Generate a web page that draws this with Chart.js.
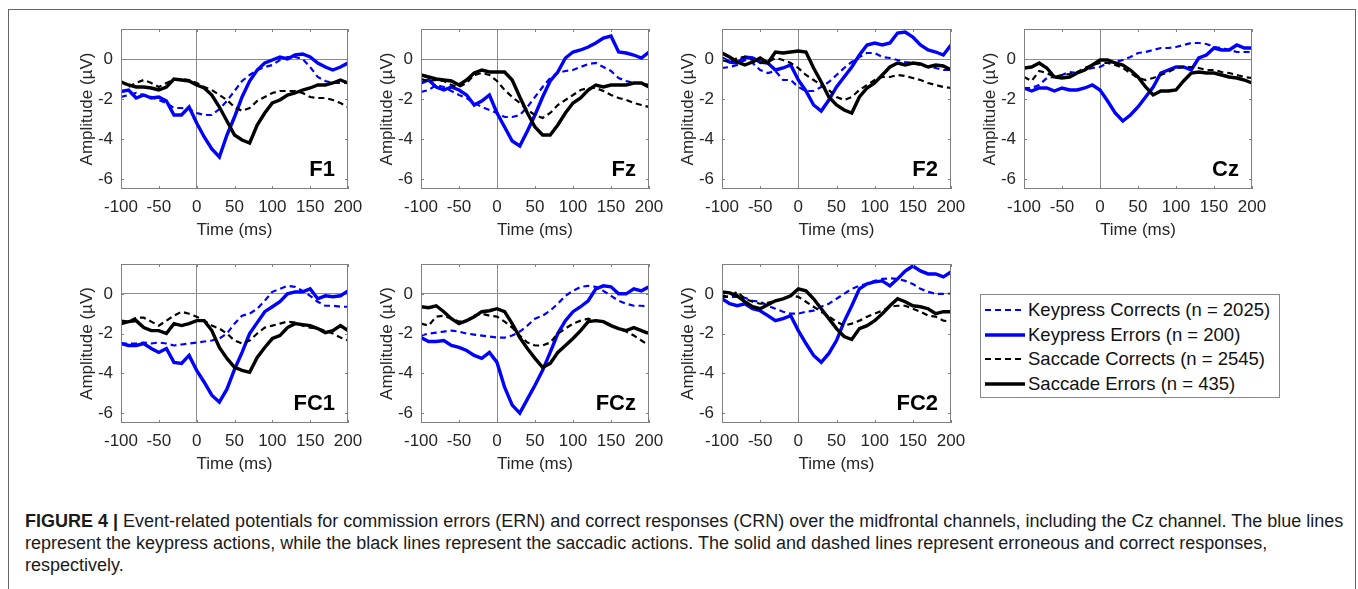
<!DOCTYPE html>
<html>
<head>
<meta charset="utf-8">
<script src="https://cdn.jsdelivr.net/npm/chart.js@4.4.1/dist/chart.umd.min.js"></script>
<style>
  body { margin: 0; width: 1358px; height: 589px; background: #fff; position: relative; overflow: hidden;
         font-family: "Liberation Sans", Arial, sans-serif; }
  .frame { position: absolute; left: 8px; top: 9px; width: 1346px; height: 640px; border: 1px solid #666; }
  canvas { position: absolute; }
  #legend { position: absolute; left: 980px; top: 294px; width: 298px; height: 102px; border: 1px solid #888; }
  #legend .row { position: absolute; left: 0; height: 24px; line-height: 24px; font-size: 18.5px; color: #111; white-space: nowrap; }
  #legend svg { position: absolute; left: 4px; top: 10px; }
  #legend span { position: absolute; left: 47px; }
  .caption { position: absolute; left: 25px; top: 510px; font-size: 18px; line-height: 22px; color: #1a1a1a; white-space: nowrap; }
</style>
</head>
<body>
<div class="frame"></div>
<div id="legend"></div>
<div class="caption"><b>FIGURE 4 |</b> Event-related potentials for commission errors (ERN) and correct responses (CRN) over the midfrontal channels, including the Cz channel. The blue lines<br>represent the keypress actions, while the black lines represent the saccadic actions. The solid and dashed lines represent erroneous and correct responses,<br>respectively.</div>
<script>
// time axis (ms) and tick values
const times = [-100, -90, -80, -70, -60, -50, -40, -30, -20, -10, 0, 10, 20, 30, 40, 50, 60, 70, 80, 90, 100, 110, 120, 130, 140, 150, 160, 170, 180, 190, 200];
const xTicks = [-100, -50, 0, 50, 100, 150, 200];
const yTicks = [-6, -4, -2, 0];

const seriesLabels = ["Keypress Corrects (n = 2025)", "Keypress Errors (n = 200)", "Saccade Corrects (n = 2545)", "Saccade Errors (n = 435)"];
const channels = ["F1", "Fz", "F2", "Cz", "FC1", "FCz", "FC2"];

// amplitudes (µV), every 10 ms
const f1KeyCorrect = [-1.9, -1.8, -1.7, -1.8, -1.9, -2.05, -2.2, -2.45, -2.45, -2.5, -2.7, -2.8, -2.8, -2.5, -2.1, -1.6, -1.1, -0.8, -0.55, -0.4, -0.3, -0.05, 0.1, 0.1, 0.0, -0.4, -0.9, -1.1, -1.2, -1.2, -1.2];
const f1KeyError = [-1.63, -1.55, -1.95, -1.8, -1.95, -1.9, -2.1, -2.8, -2.8, -2.4, -3.2, -3.9, -4.5, -4.9, -3.8, -2.9, -1.9, -1.1, -0.55, -0.2, -0.05, 0.1, 0.0, 0.2, 0.25, 0.1, -0.2, -0.4, -0.55, -0.4, -0.2];
const f1SacCorrect = [-1.1, -1.4, -1.2, -1.05, -1.2, -1.4, -1.2, -1.05, -1.0, -1.05, -1.2, -1.4, -1.55, -1.8, -2.05, -2.4, -2.6, -2.45, -2.1, -1.9, -1.7, -1.6, -1.6, -1.6, -1.7, -1.9, -1.95, -1.95, -2.05, -2.2, -2.4];
const f1SacError = [-1.15, -1.3, -1.4, -1.4, -1.45, -1.55, -1.4, -1.0, -1.05, -1.1, -1.3, -1.45, -1.8, -2.4, -3.1, -3.8, -4.05, -4.2, -3.3, -2.7, -2.2, -2.05, -1.8, -1.7, -1.55, -1.45, -1.3, -1.3, -1.2, -1.05, -1.2];

const fzKeyCorrect = [-1.65, -1.55, -1.3, -1.4, -1.6, -1.8, -1.95, -2.2, -2.4, -2.55, -2.7, -2.9, -2.9, -2.8, -2.4, -1.9, -1.4, -0.95, -0.7, -0.6, -0.55, -0.4, -0.25, -0.2, -0.4, -0.6, -0.95, -1.1, -1.2, -1.2, -1.3];
const fzKeyError = [-1.2, -1.05, -1.4, -1.55, -1.4, -1.55, -1.8, -2.3, -2.1, -1.8, -2.7, -3.4, -4.1, -4.35, -3.6, -2.8, -1.9, -1.1, -0.65, 0.05, 0.35, 0.45, 0.6, 0.8, 1.05, 1.15, 0.35, 0.3, 0.2, 0.05, 0.35];
const fzSacCorrect = [-1.0, -1.1, -1.05, -1.1, -1.3, -1.4, -1.2, -0.8, -0.7, -0.8, -1.1, -1.55, -1.9, -2.2, -2.55, -2.8, -2.95, -2.7, -2.3, -2.05, -1.8, -1.55, -1.45, -1.45, -1.6, -1.8, -1.95, -2.05, -2.2, -2.3, -2.4];
const fzSacError = [-0.8, -0.9, -1.0, -1.05, -1.1, -1.3, -1.05, -0.7, -0.55, -0.65, -0.65, -0.65, -1.05, -1.9, -2.7, -3.4, -3.8, -3.8, -3.3, -2.7, -2.2, -1.95, -1.55, -1.3, -1.4, -1.3, -1.3, -1.3, -1.2, -1.2, -1.4];

const f2KeyCorrect = [-0.45, -0.4, -0.3, -0.05, -0.2, -0.55, -0.7, -0.6, -1.05, -1.05, -1.4, -1.6, -1.6, -1.4, -1.15, -0.8, -0.45, -0.15, 0.1, 0.3, 0.3, 0.1, 0.05, -0.05, -0.15, -0.2, -0.3, -0.4, -0.45, -0.55, -0.55];
const f2KeyError = [0.05, -0.15, -0.2, 0.1, 0.05, -0.15, -0.2, -0.55, -0.45, -0.3, -1.05, -1.6, -2.3, -2.6, -2.05, -1.4, -0.9, -0.4, 0.2, 0.7, 0.8, 0.7, 0.8, 1.3, 1.35, 1.1, 0.7, 0.45, 0.35, 0.2, 0.7];
const f2SacCorrect = [-0.05, -0.15, 0.05, 0.1, -0.05, -0.2, -0.15, 0.05, -0.05, -0.2, -0.45, -0.8, -1.05, -1.3, -1.55, -1.9, -2.05, -1.9, -1.55, -1.3, -1.05, -0.9, -0.9, -0.8, -0.85, -0.95, -1.05, -1.2, -1.3, -1.4, -1.45];
const f2SacError = [0.3, 0.1, -0.15, -0.3, -0.15, 0.05, -0.2, 0.35, 0.3, 0.35, 0.4, 0.35, -0.45, -1.15, -1.9, -2.3, -2.55, -2.7, -1.9, -1.45, -1.2, -0.8, -0.4, -0.2, -0.3, -0.2, -0.25, -0.4, -0.3, -0.35, -0.55];

const czKeyCorrect = [-1.45, -1.45, -1.3, -0.95, -0.9, -0.8, -0.65, -0.7, -0.55, -0.45, -0.4, -0.2, -0.15, -0.05, 0.1, 0.3, 0.35, 0.45, 0.55, 0.55, 0.6, 0.7, 0.8, 0.8, 0.75, 0.6, 0.55, 0.45, 0.35, 0.35, 0.35];
const czKeyError = [-1.45, -1.6, -1.45, -1.45, -1.6, -1.45, -1.55, -1.55, -1.45, -1.3, -1.55, -2.1, -2.7, -3.1, -2.8, -2.4, -1.9, -1.4, -0.7, -0.55, -0.4, -0.4, -0.55, 0.05, 0.2, 0.55, 0.45, 0.45, 0.7, 0.55, 0.55];
const czSacCorrect = [-0.9, -1.1, -0.6, -0.7, -0.9, -0.8, -0.75, -0.65, -0.45, -0.3, -0.2, -0.2, -0.3, -0.45, -0.7, -0.95, -1.05, -0.95, -0.8, -0.65, -0.45, -0.4, -0.4, -0.45, -0.55, -0.55, -0.65, -0.7, -0.8, -0.9, -0.95];
const czSacError = [-0.45, -0.4, -0.2, -0.45, -0.9, -0.95, -0.9, -0.7, -0.55, -0.3, -0.05, -0.05, -0.2, -0.3, -0.55, -0.9, -1.4, -1.8, -1.6, -1.6, -1.55, -1.1, -0.7, -0.65, -0.7, -0.7, -0.8, -0.9, -0.95, -1.05, -1.2];

const fc1KeyCorrect = [-2.5, -2.5, -2.5, -2.45, -2.5, -2.45, -2.5, -2.6, -2.55, -2.5, -2.45, -2.4, -2.35, -2.25, -2.0, -1.5, -1.1, -1.0, -0.75, -0.35, 0.1, 0.25, 0.4, 0.35, 0.15, -0.1, -0.4, -0.6, -0.6, -0.65, -0.65];
const fc1KeyError = [-2.5, -2.6, -2.6, -2.5, -2.75, -2.95, -2.75, -3.45, -3.5, -3.1, -3.85, -4.45, -5.1, -5.45, -4.8, -3.8, -2.95, -2.0, -1.45, -0.9, -0.65, -0.4, 0.0, 0.1, 0.1, 0.25, -0.25, -0.1, -0.15, -0.1, 0.15];
const fc1SacCorrect = [-1.35, -1.4, -1.2, -1.2, -1.4, -1.6, -1.35, -1.1, -0.9, -1.0, -1.15, -1.35, -1.6, -1.75, -2.0, -2.35, -2.5, -2.35, -2.0, -1.7, -1.6, -1.5, -1.4, -1.45, -1.6, -1.7, -1.75, -1.85, -2.0, -2.2, -2.35];
const fc1SacError = [-1.5, -1.4, -1.35, -1.7, -1.85, -1.85, -2.0, -1.5, -1.6, -1.5, -1.35, -1.35, -1.85, -2.7, -3.25, -3.7, -3.85, -3.95, -3.2, -2.7, -2.25, -2.1, -1.7, -1.5, -1.55, -1.6, -1.75, -1.95, -1.85, -1.6, -1.85];

const fczKeyCorrect = [-2.1, -2.0, -1.95, -1.9, -1.85, -1.9, -2.0, -2.05, -2.1, -2.15, -2.2, -2.2, -2.1, -1.9, -1.6, -1.25, -1.1, -0.85, -0.5, -0.1, 0.15, 0.35, 0.4, 0.35, 0.15, -0.1, -0.35, -0.5, -0.6, -0.6, -0.65];
const fczKeyError = [-2.2, -2.4, -2.4, -2.35, -2.6, -2.7, -2.85, -3.1, -3.25, -2.95, -3.45, -4.7, -5.6, -6.0, -5.3, -4.6, -3.85, -2.95, -2.0, -1.35, -0.9, -0.65, -0.35, 0.25, 0.4, 0.35, 0.0, 0.0, 0.25, 0.15, 0.35];
const fczSacCorrect = [-1.5, -1.6, -1.15, -1.1, -1.25, -1.4, -1.35, -1.1, -1.0, -1.1, -1.15, -1.4, -1.7, -2.1, -2.45, -2.6, -2.6, -2.45, -2.0, -1.75, -1.5, -1.35, -1.25, -1.35, -1.4, -1.6, -1.75, -1.9, -2.1, -2.35, -2.6];
const fczSacError = [-0.65, -0.7, -0.6, -0.9, -1.25, -1.5, -1.35, -1.15, -0.9, -0.85, -0.75, -0.9, -1.5, -2.2, -2.75, -3.25, -3.7, -3.5, -2.95, -2.6, -2.25, -1.85, -1.4, -1.35, -1.4, -1.6, -1.75, -1.85, -1.7, -1.85, -2.0];

const fc2KeyCorrect = [-0.15, -0.15, -0.15, -0.2, -0.35, -0.4, -0.6, -0.75, -0.9, -1.0, -1.0, -0.9, -0.85, -0.65, -0.5, -0.25, 0.0, 0.25, 0.4, 0.5, 0.65, 0.75, 0.78, 0.75, 0.65, 0.5, 0.25, 0.1, 0.0, 0.0, 0.0];
const fc2KeyError = [-0.25, -0.5, -0.6, -0.5, -0.75, -0.85, -1.1, -1.35, -1.25, -1.1, -1.85, -2.5, -3.1, -3.45, -3.0, -2.35, -1.4, -0.6, 0.25, 0.5, 0.6, 0.65, 0.4, 0.75, 1.15, 1.4, 1.15, 1.0, 1.0, 0.85, 1.1];
const fc2SacCorrect = [-0.1, -0.15, 0.1, -0.25, -0.4, -0.5, -0.45, -0.35, -0.25, -0.1, -0.15, -0.4, -0.65, -0.9, -1.15, -1.4, -1.6, -1.5, -1.35, -1.15, -1.0, -0.85, -0.65, -0.6, -0.6, -0.75, -0.9, -1.1, -1.15, -1.35, -1.4];
const fc2SacError = [0.1, 0.05, -0.1, -0.4, -0.65, -0.75, -0.55, -0.35, -0.25, -0.1, 0.25, 0.15, -0.25, -0.75, -1.25, -1.75, -2.15, -2.3, -1.75, -1.6, -1.35, -1.0, -0.6, -0.25, -0.4, -0.6, -0.65, -0.75, -1.0, -0.9, -0.9];

const channelData = {
  F1: [f1KeyCorrect, f1KeyError, f1SacCorrect, f1SacError],
  Fz: [fzKeyCorrect, fzKeyError, fzSacCorrect, fzSacError],
  F2: [f2KeyCorrect, f2KeyError, f2SacCorrect, f2SacError],
  Cz: [czKeyCorrect, czKeyError, czSacCorrect, czSacError],
  FC1: [fc1KeyCorrect, fc1KeyError, fc1SacCorrect, fc1SacError],
  FCz: [fczKeyCorrect, fczKeyError, fczSacCorrect, fczSacError],
  FC2: [fc2KeyCorrect, fc2KeyError, fc2SacCorrect, fc2SacError]
};

// look of each series and where each panel's plot box sits
const seriesStyle = [
  { color: "#0000ff", width: 2.2, dash: [6, 4] },
  { color: "#0000ff", width: 3.4, dash: [] },
  { color: "#000000", width: 2.2, dash: [6, 4] },
  { color: "#000000", width: 3.4, dash: [] }
];
const plotBoxes = {
  F1: [121, 29, 227, 160], Fz: [421, 29, 228, 160], F2: [722, 29, 229, 160], Cz: [1024, 29, 228, 160],
  FC1: [121, 264, 227, 159], FCz: [421, 264, 228, 159], FC2: [722, 264, 229, 159]
};

const FONT = '"Liberation Sans", Arial, sans-serif';
const TXT = "#262626";
const LEFT_W = 44, TOP_PAD = 14, RIGHT_PAD = 22, BOTTOM_H = 52;

// axis box, inward ticks, channel name
const panelFrame = {
  id: "panelFrame",
  afterDraw(chart, args, opts) {
    const { ctx, chartArea: a, scales: { x, y } } = chart;
    ctx.save();
    ctx.strokeStyle = "#808080";
    ctx.lineWidth = 1;
    ctx.strokeRect(a.left + 0.5, a.top + 0.5, a.width - 1, a.height - 1);
    ctx.beginPath();
    xTicks.forEach(v => {
      const px = Math.round(x.getPixelForValue(v)) + 0.5;
      ctx.moveTo(px, a.top); ctx.lineTo(px, a.top + 3);
      ctx.moveTo(px, a.bottom); ctx.lineTo(px, a.bottom - 3);
    });
    yTicks.forEach(v => {
      const py = Math.round(y.getPixelForValue(v)) + 0.5;
      ctx.moveTo(a.left, py); ctx.lineTo(a.left + 3, py);
      ctx.moveTo(a.right, py); ctx.lineTo(a.right - 3, py);
    });
    ctx.stroke();
    ctx.fillStyle = "#000";
    ctx.font = "bold 22px " + FONT;
    ctx.textAlign = "right";
    ctx.textBaseline = "alphabetic";
    ctx.fillText(opts.label, a.right - 13, a.bottom - 13);
    ctx.restore();
  }
};

const zeroLine = c => (c.tick && c.tick.value === 0 ? "#8c8c8c" : "rgba(0,0,0,0)");

channels.forEach(name => {
  const [pl, pt, pw, ph] = plotBoxes[name];
  const canvas = document.createElement("canvas");
  canvas.width = pw + LEFT_W + RIGHT_PAD;
  canvas.height = ph + TOP_PAD + BOTTOM_H;
  canvas.style.left = (pl - LEFT_W) + "px";
  canvas.style.top = (pt - TOP_PAD) + "px";
  document.body.appendChild(canvas);

  const datasets = channelData[name].map((vals, i) => ({
    label: seriesLabels[i],
    data: times.map((t, k) => ({ x: t, y: vals[k] })),
    borderColor: seriesStyle[i].color,
    borderWidth: seriesStyle[i].width,
    borderDash: seriesStyle[i].dash,
    pointRadius: 0,
    fill: false,
    tension: 0,
    order: 3 - i
  }));

  new Chart(canvas.getContext("2d"), {
    type: "line",
    data: { datasets },
    plugins: [panelFrame],
    options: {
      responsive: false,
      animation: false,
      events: [],
      layout: { padding: { left: 0, top: TOP_PAD, right: RIGHT_PAD, bottom: 0 } },
      plugins: {
        legend: { display: false },
        tooltip: { enabled: false },
        panelFrame: { label: name }
      },
      scales: {
        x: {
          type: "linear",
          min: -100,
          max: 200,
          afterBuildTicks: s => { s.ticks = xTicks.map(v => ({ value: v })); },
          afterFit: s => { s.height = BOTTOM_H; s.paddingLeft = 0; s.paddingRight = 0; },
          ticks: { maxRotation: 0, minRotation: 0, autoSkip: false, padding: 8, color: TXT, font: { family: FONT, size: 17 } },
          grid: { drawTicks: false, lineWidth: 1, color: zeroLine },
          border: { display: false },
          title: { display: true, text: "Time (ms)", color: TXT, padding: 0, font: { family: FONT, size: 17 } }
        },
        y: {
          type: "linear",
          min: -6.5,
          max: 1.5,
          afterBuildTicks: s => { s.ticks = yTicks.map(v => ({ value: v })); },
          afterFit: s => { s.width = LEFT_W; s.paddingTop = 0; s.paddingBottom = 0; },
          ticks: { padding: 8, color: TXT, font: { family: FONT, size: 17 } },
          grid: { drawTicks: false, lineWidth: 1, color: zeroLine },
          border: { display: false },
          title: { display: true, text: "Amplitude (µV)", color: TXT, padding: 0, font: { family: FONT, size: 17 } }
        }
      }
    }
  });
});

// legend box
const legend = document.getElementById("legend");
seriesLabels.forEach((lab, i) => {
  const st = seriesStyle[i];
  const row = document.createElement("div");
  row.className = "row";
  row.style.top = (3 + i * 24.7) + "px";
  row.innerHTML =
    '<svg width="40" height="4"><line x1="0" y1="2" x2="40" y2="2" stroke="' + st.color +
    '" stroke-width="' + st.width + '" stroke-dasharray="' + (st.dash.length ? st.dash.join(",") : "none") +
    '"/></svg><span>' + lab + "</span>";
  legend.appendChild(row);
});
</script>
</body>
</html>
